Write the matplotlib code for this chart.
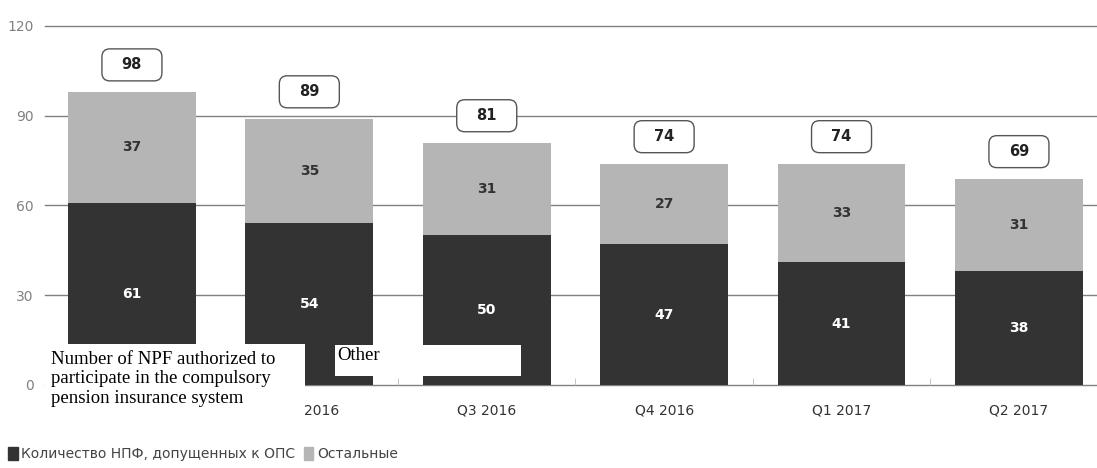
import numpy as np
import matplotlib
matplotlib.use("Agg")
import matplotlib.pyplot as plt
from matplotlib.patches import FancyBboxPatch, Patch, Rectangle

quarters = ["Q1 2016", "Q2 2016", "Q3 2016", "Q4 2016", "Q1 2017", "Q2 2017"]
npf_ops = [61, 54, 50, 47, 41, 38]
others = [37, 35, 31, 27, 33, 31]
totals = [98, 89, 81, 74, 74, 69]
yticks = [0, 30, 60, 90, 120]

dark = "#333333"
light = "#b5b5b5"

W, H = 1097, 468
fig = plt.figure(figsize=(W / 100, H / 100), dpi=100)
ax = fig.add_axes([45 / W, (H - 385) / H, (W - 45) / W, 362 / H])

x = np.arange(len(quarters))
for y in yticks:
    ax.axhline(y, color="#808080", lw=1.0, zorder=1, clip_on=False)

ax.bar(x, npf_ops, width=0.72, color=dark, zorder=2)
ax.bar(x, others, width=0.72, bottom=npf_ops, color=light, zorder=2)

for i in x:
    ax.text(i, npf_ops[i] / 2, str(npf_ops[i]), ha="center", va="center",
            color="white", fontsize=10, fontweight="semibold", zorder=3)
    ax.text(i, npf_ops[i] + others[i] / 2, str(others[i]), ha="center", va="center",
            color="#333333", fontsize=10, fontweight="semibold", zorder=3)

# рамки с итоговыми значениями над столбцами
ax.set_xlim(-0.49, 5.44)
ax.set_ylim(0, 121)
px_x = (ax.get_xlim()[1] - ax.get_xlim()[0]) / (W - 45)
px_y = 121 / 362
bw, bh = 60 * px_x, 32 * px_y
for i in x:
    cy = totals[i] + 9
    box = FancyBboxPatch((i - bw / 2, cy - bh / 2), bw, bh,
                         boxstyle="round,pad=0,rounding_size=%f" % (8 * px_x),
                         mutation_aspect=px_y / px_x,
                         facecolor="white", edgecolor="#555555", lw=1.0, zorder=3)
    ax.add_patch(box)
    ax.text(i, cy, str(totals[i]), ha="center", va="center", fontsize=10.5,
            fontweight="bold", color="#222222", zorder=4)

for s in ax.spines.values():
    s.set_visible(False)
ax.set_yticks(yticks)
ax.set_xticks(x)
ax.set_xticklabels(quarters)
ax.set_xticks(x[:-1] + 0.5, minor=True)
ax.tick_params(axis="y", length=0, pad=8, labelsize=10, labelcolor="#808080")
ax.tick_params(axis="x", which="major", length=0, pad=13, labelsize=10, labelcolor="#333333")
ax.tick_params(axis="x", which="minor", direction="in", length=5, color="#bbbbbb")

fig.legend(handles=[Patch(color=dark), Patch(color=light)],
           labels=["Количество НПФ, допущенных к ОПС", "Остальные"],
           loc="lower left", bbox_to_anchor=(-0.004, -0.012), ncol=2, frameon=False,
           fontsize=10, handlelength=0.7, handleheight=1.0, handletextpad=0.25,
           columnspacing=0.6, labelcolor="#444444")

# английские подписи поверх легенды
fig.add_artist(Rectangle((45 / W, (H - 420) / H), 260 / W, 76 / H,
                         transform=fig.transFigure, facecolor="white", edgecolor="none", zorder=10))
fig.add_artist(Rectangle((335 / W, (H - 376) / H), 186 / W, 31 / H,
                         transform=fig.transFigure, facecolor="white", edgecolor="none", zorder=10))
fig.text(51 / W, (H - 351) / H,
         "Number of NPF authorized to\nparticipate in the compulsory\npension insurance system",
         family="Liberation Serif", fontsize=13.5, color="black", va="top", ha="left",
         linespacing=1.18, zorder=11)
fig.text(337 / W, (H - 347) / H, "Other", family="Liberation Serif", fontsize=13.5,
         color="black", va="top", ha="left", zorder=11)

fig.savefig("out.png", dpi=100)
